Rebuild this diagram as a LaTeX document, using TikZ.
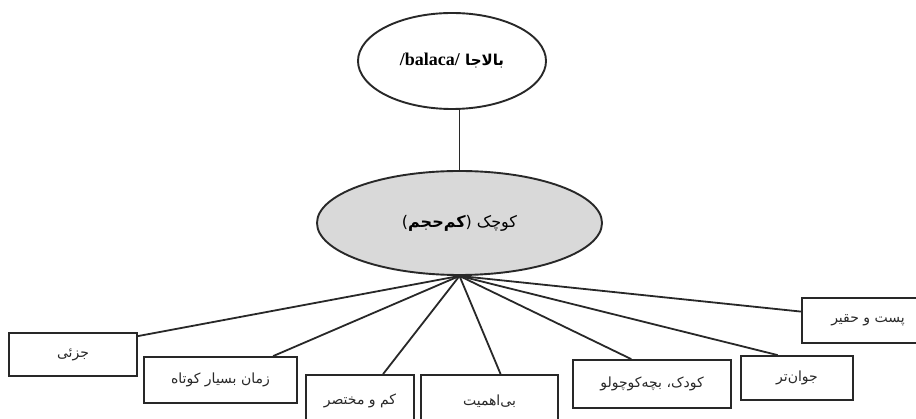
\documentclass[tikz,border=0pt]{standalone}
\usepackage{fontspec}
\usetikzlibrary{shapes.geometric,calc}
\TeXXeTstate=1
\newfontfamily\fa[Script=Arabic]{DejaVu Sans}
\newfontfamily\lat{Liberation Serif}
\definecolor{midfill}{RGB}{217,217,217}
\definecolor{ink}{RGB}{40,40,40}
\tikzset{
  ell/.style={ellipse,draw=ink,line width=1.9pt,inner sep=0pt},
  box/.style={rectangle,draw=ink,line width=1.8pt,inner sep=0pt,text=ink,font=\fa\fontsize{14}{16}\selectfont},
  link/.style={draw=ink,line width=1.8pt}
}
\begin{document}
\begin{tikzpicture}[x=1pt,y=-1pt]
\useasboundingbox[fill=white] (0,0) rectangle (916,419);
\node[ell,minimum width=188pt,minimum height=96pt] (top) at (452,61)
  {\fa\fontsize{15}{17}\selectfont\bfseries\beginR بالاجا \beginL{\lat\fontsize{18}{20}\selectfont/balaca/}\endL\endR};
\node[ell,fill=midfill,minimum width=285pt,minimum height=104pt] (mid) at (459.5,223)
  {\fa\fontsize{16}{18}\selectfont\beginR کوچک (\textbf{کم^^^^200cحجم})\endR};
\draw[link] (mid.north) -- (mid.north |- top.south);
\node[box,minimum width=128pt,minimum height=43pt] (b1) at (73,354.5) {\beginR جزئی\endR};
\node[box,minimum width=153pt,minimum height=46pt] (b2) at (220.5,380) {\beginR زمان بسیار کوتاه\endR};
\node[box,minimum width=108pt,minimum height=52pt] (b3) at (360,401) {\beginR کم و مختصر\endR};
\node[box,minimum width=137pt,minimum height=52pt] (b4) at (489.5,401) {\beginR بی^^^^200cاهمیت\endR};
\node[box,minimum width=158pt,minimum height=48pt] (b5) at (652,384) {\beginR کودک، بچه^^^^200cکوچولو\endR};
\node[box,minimum width=112pt,minimum height=44pt] (b6) at (797,378) {\beginR جوان^^^^200cتر\endR};
\node[box,minimum width=132pt,minimum height=45pt] (b7) at (868,320.5) {\beginR پست و حقیر\endR};
\draw[link] (mid.south) -- ($(b1.north east)+(0,4)$);
\draw[link] (mid.south) -- ($(b2.north west)!0.84!(b2.north east)$);
\draw[link] (mid.south) -- ($(b3.north west)!0.71!(b3.north east)$);
\draw[link] (mid.south) -- ($(b4.north west)!0.58!(b4.north east)$);
\draw[link] (mid.south) -- ($(b5.north west)!0.37!(b5.north east)$);
\draw[link] (mid.south) -- ($(b6.north west)!0.33!(b6.north east)$);
\draw[link] (mid.south) -- ($(b7.north west)!0.31!(b7.south west)$);
\end{tikzpicture}
\end{document}
